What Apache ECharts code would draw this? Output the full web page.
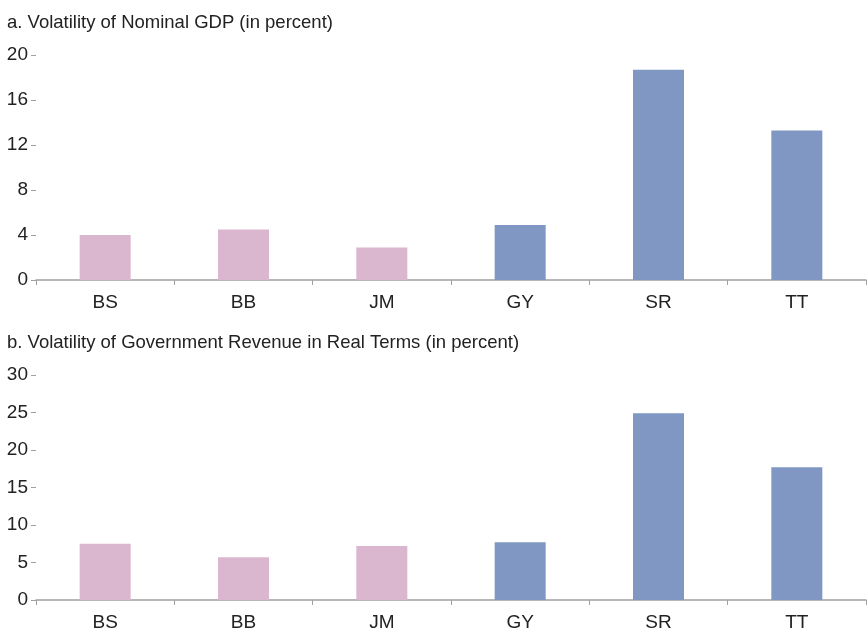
<!DOCTYPE html>
<html><head><meta charset="utf-8">
<script src="https://cdn.jsdelivr.net/npm/echarts@6/dist/echarts.min.js"></script>
<style>html,body{margin:0;padding:0;background:#fff}#c{width:868px;height:635px}</style>
</head><body><div id="c"></div>
<script>
const categories = ['BS','BB','JM','GY','SR','TT'];
const nominalGDP = [4.0, 4.5, 2.9, 4.9, 18.7, 13.3];
const govRevenue = [7.5, 5.7, 7.2, 7.7, 24.9, 17.7];
const yTicksA = [0, 4, 8, 12, 16, 20];
const yTicksB = [0, 5, 10, 15, 20, 25, 30];
const titleA = 'a. Volatility of Nominal GDP (in percent)';
const titleB = 'b. Volatility of Government Revenue in Real Terms (in percent)';
const groupB = ['BS','BB','JM'];

const FONT = '"Liberation Sans Narrow", "Arial Narrow", "Liberation Sans", sans-serif';
const PINK = '#dbb6cf', BLUE = '#7f97c2';
const colorFn = p => groupB.indexOf(p.name) >= 0 ? PINK : BLUE;

function xAx(i){ return {
  type:'category', gridIndex:i, data:categories,
  axisLine:{lineStyle:{color:'#a0a0a0', width:1.5}},
  axisTick:{show:true, length:5, lineStyle:{color:'#a0a0a0'}},
  axisLabel:{color:'#222', fontFamily:FONT, fontSize:19, margin:13}
};}
function yAx(i, ticks){ return {
  type:'value', gridIndex:i, min:ticks[0], max:ticks[ticks.length-1], interval:ticks[1]-ticks[0],
  axisLine:{show:false},
  axisTick:{show:true, length:5, lineStyle:{color:'#a0a0a0'}},
  splitLine:{show:false},
  axisLabel:{color:'#222', fontFamily:FONT, fontSize:19, margin:8}
};}

const chart = echarts.init(document.getElementById('c'));
chart.setOption({
  animation:false,
  title:[
    {text:titleA, left:2, top:8, textStyle:{fontFamily:FONT, fontSize:18.5, fontWeight:'normal', color:'#222'}},
    {text:titleB, left:2, top:328, textStyle:{fontFamily:FONT, fontSize:18.5, fontWeight:'normal', color:'#222'}}
  ],
  grid:[
    {left:36, right:2, top:55, height:225},
    {left:36, right:2, top:375, height:225}
  ],
  xAxis:[xAx(0), xAx(1)],
  yAxis:[yAx(0, yTicksA), yAx(1, yTicksB)],
  series:[
    {type:'bar', xAxisIndex:0, yAxisIndex:0, data:nominalGDP, barWidth:51, itemStyle:{color:colorFn}},
    {type:'bar', xAxisIndex:1, yAxisIndex:1, data:govRevenue, barWidth:51, itemStyle:{color:colorFn}}
  ]
});
</script></body></html>
